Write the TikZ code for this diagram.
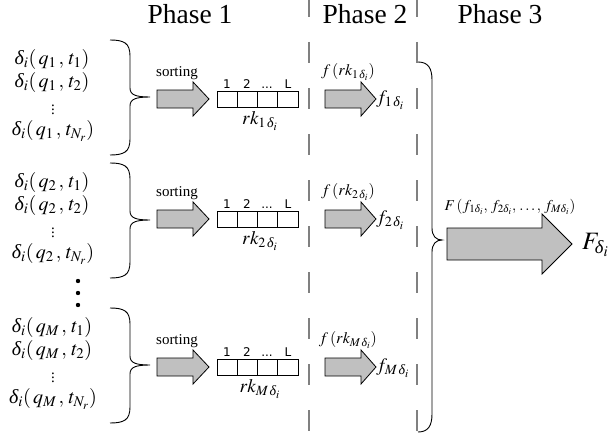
\documentclass[tikz,border=0pt]{standalone}
\usepackage{mathptmx}
\usepackage{amsmath}
\usepackage[no-math]{fontspec}
\setmainfont{Liberation Serif}
\newfontfamily\cellfont{DejaVu Sans}
\newcommand\dlt{\text{\itshape δ}}
\definecolor{arrgray}{RGB}{192,192,192}
\definecolor{dashgray}{RGB}{128,128,128}
\newcommand\fatarrow[6]{%
  \draw[arr] (#1,#4-#5) -- (#2,#4-#5) -- (#2,#4-#6) -- (#3,#4) -- (#2,#4+#6) -- (#2,#4+#5) -- (#1,#4+#5) -- cycle;}
\newcommand\mybrace[6]{% x0, xm, xt, top, tip, bottom
  \draw[bracestyle] (#1,#4) .. controls (#1+14,#4) and (#2,#4+3) .. (#2,#4+16)
    -- (#2,#5-9) .. controls (#2,#5-2) and (#2+6,#5) .. (#3,#5)
    .. controls (#2+6,#5) and (#2,#5+2) .. (#2,#5+9)
    -- (#2,#6-16) .. controls (#2,#6-3) and (#1+14,#6) .. (#1,#6);}
\begin{document}
\begin{tikzpicture}[x=1pt,y=-1pt,
  phase/.style={font=\fontsize{27.5}{30}\selectfont, anchor=base, inner sep=0},
  delta/.style={font=\fontsize{20}{22}\selectfont, inner sep=0},
  lab/.style={font=\fontsize{15}{17}\selectfont, inner sep=0},
  res/.style={font=\fontsize{19}{21}\selectfont, inner sep=0, anchor=west},
  celllab/.style={font=\cellfont\fontsize{12}{14}\selectfont, inner sep=0, anchor=base},
  arr/.style={fill=arrgray, draw=black, line width=0.8pt},
  dashline/.style={draw=dashgray, line width=1.8pt, dash pattern=on 21pt off 25pt, dash phase=4pt},
  bracestyle/.style={line width=0.9pt},
  cell/.style={draw=black, line width=0.8pt}]
\useasboundingbox (0,0) rectangle (613,436);
% phase titles
\node[phase] (p1) at (190,24) {Phase 1};
\node[phase] (p2) at (365,24) {Phase 2};
\node[phase] (p3) at (500,24) {Phase 3};
% dashed separators
\draw[dashline] (309,0) -- (309,436);
\draw[dashline] (417,0) -- (417,436);
% groups
\foreach \g/\dy/\c in {1/0/99, 2/123/219, M/268/367}{
  \node[delta] (d\g a) at (52,59+\dy) {$\dlt_{i}(\,q_{\g}\,,\,t_{1})$};
  \node[delta] (d\g b) at (52,82+\dy) {$\dlt_{i}(\,q_{\g}\,,\,t_{2})$};
  \node[delta, font=\fontsize{15}{17}\selectfont] (d\g c) at (53,107+\dy) {$\vdots$};
  \node[delta] (d\g d) at (53,131+\dy) {$\dlt_{i}(\,q_{\g}\,,\,t_{N_{r}})$};
  \mybrace{110}{130}{150}{40+\dy}{97+\dy}{155+\dy}
  \node[lab] (s\g) at (177,\c-26) {sorting};
  \fatarrow{157}{193}{209}{\c}{9}{17}
  \coordinate (sa\g) at (183,\c);
  \draw[cell] (217,\c-8) rectangle (298,\c+8);
  \draw[cell] (237.25,\c-8) -- (237.25,\c+8);
  \draw[cell] (257.5,\c-8) -- (257.5,\c+8);
  \draw[cell] (277.75,\c-8) -- (277.75,\c+8);
  \node[celllab] (c\g a) at (227,\c-10.5) {1};
  \node[celllab] (c\g b) at (247,\c-10.5) {2};
  \node[celllab] (c\g c) at (267,\c-10.5) {...};
  \node[celllab] (c\g d) at (288,\c-10.5) {L};
  \node[res, anchor=center] (rk\g) at (260,\c+22) {$rk_{\g\,\dlt_{i}}$};
  \node[lab, font=\fontsize{16}{18}\selectfont] (fr\g) at (348,\c-27) {$f\,(rk_{\g\,\dlt_{i}})$};
  \fatarrow{325}{361}{376}{\c}{9}{17}
  \coordinate (fa\g) at (350,\c);
  \node[res] (f\g) at (376,\c+1) {$f_{\g\,\dlt_{i}}$};
}
% big dots
\fill (78,281) circle (2.2);
\fill (78,293) circle (2.2);
\fill (78,305) circle (2.2);
% big brace
\draw[bracestyle] (418,62) .. controls (428,62) and (432,68) .. (432,80)
  -- (432,228) .. controls (432,236) and (436,240) .. (442,240)
  .. controls (436,240) and (432,244) .. (432,252)
  -- (432,414) .. controls (432,426) and (428,432) .. (418,432);
% phase 3
\node[lab] (FF) at (510,207) {$F\,(f_{1\dlt_{i}},\, f_{2\dlt_{i}},\, \ldots,\, f_{M\dlt_{i}})$};
\fatarrow{447}{542}{572}{244}{16}{30}
\coordinate (bigarr) at (500,244);
\node[inner sep=0, anchor=west, font=\fontsize{25}{27}\selectfont] (Fd) at (582,245) {$F_{\dlt_{i}}$};
\end{tikzpicture}
\end{document}
